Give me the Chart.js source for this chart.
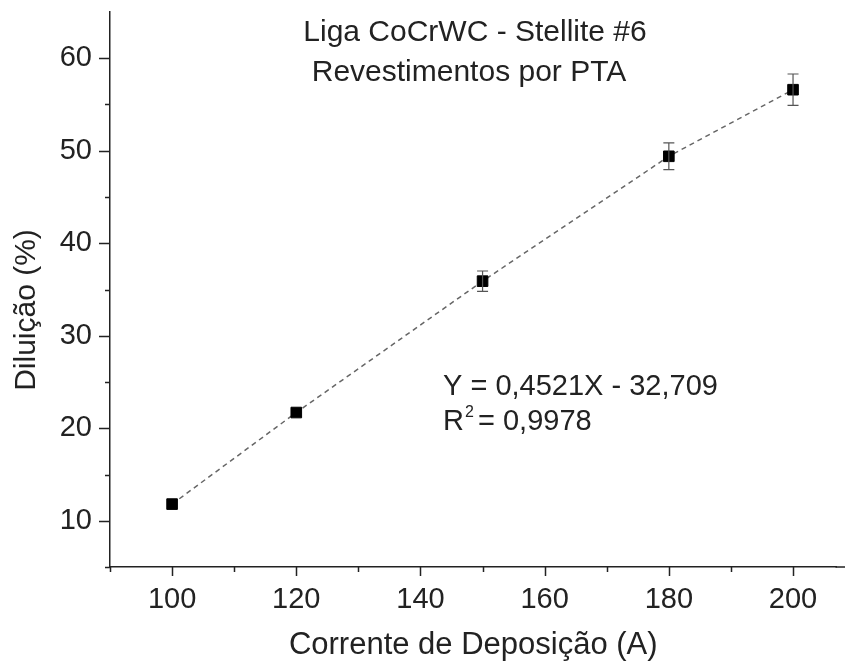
<!DOCTYPE html>
<html>
<head>
<meta charset="utf-8">
<script src="https://cdn.jsdelivr.net/npm/chart.js@4/dist/chart.umd.min.js"></script>
<style>
  html, body { margin: 0; padding: 0; background: #fff; overflow: hidden; }
  #wrap { width: 845px; height: 668px; }
</style>
</head>
<body>
<div id="wrap"><canvas id="chart_dil"></canvas></div>
<script>
// data
var corrente = [100, 120, 150, 180, 200];
var diluicao = [11.8, 21.7, 35.9, 49.4, 56.6];
var erro = [0, 0, 1.1, 1.45, 1.7];

var xTicks = [90, 100, 110, 120, 130, 140, 150, 160, 170, 180, 190, 200];
var yTicks = [5, 10, 15, 20, 25, 30, 35, 40, 45, 50, 55, 60];

var titulo = ['Liga CoCrWC - Stellite #6', 'Revestimentos por PTA'];
var equacao = 'Y = 0,4521X - 32,709';
var r2 = '0,9978';
var yLabel = 'Diluição (%)';

var FONT = '"Liberation Sans", Arial, sans-serif';

// error bars + ticks + text drawn on top
var extras = {
    id: 'extras',
    afterDatasetsDraw(chart) {
        let ctx = chart.ctx;
        let xs = chart.scales.x, ys = chart.scales.y;
        ctx.save();
        ctx.strokeStyle = '#555';
        ctx.lineWidth = 1.2;
        for (let i = 0; i < corrente.length; i++) {
            if (!erro[i]) continue;
            let px = xs.getPixelForValue(corrente[i]);
            let top = ys.getPixelForValue(diluicao[i] + erro[i]);
            let bot = ys.getPixelForValue(diluicao[i] - erro[i]);
            ctx.beginPath();
            ctx.moveTo(px, top); ctx.lineTo(px, bot);
            ctx.moveTo(px - 5.5, top); ctx.lineTo(px + 5.5, top);
            ctx.moveTo(px - 5.5, bot); ctx.lineTo(px + 5.5, bot);
            ctx.stroke();
        }
        ctx.restore();
    },
    afterDraw(chart) {
        let ctx = chart.ctx;
        let xs = chart.scales.x, ys = chart.scales.y;
        let area = chart.chartArea;
        ctx.save();
        ctx.strokeStyle = '#222';
        ctx.lineWidth = 1.5;
        ctx.beginPath();
        // bottom axis runs on to the edge of the picture
        ctx.moveTo(area.right - 1, area.bottom); ctx.lineTo(chart.width, area.bottom);
        xTicks.forEach(v => {
            let px = Math.round(xs.getPixelForValue(v)) + 0.5;
            let len = (v % 20 === 0) ? 9 : 5;
            ctx.moveTo(px, area.bottom); ctx.lineTo(px, area.bottom + len);
        });
        yTicks.forEach(v => {
            let py = Math.round(ys.getPixelForValue(v)) + 0.5;
            let len = (v % 10 === 0) ? 11 : 5;
            ctx.moveTo(area.left, py); ctx.lineTo(area.left - len, py);
        });
        ctx.stroke();

        ctx.fillStyle = '#222';
        ctx.font = '30px ' + FONT;
        ctx.textAlign = 'center';
        ctx.textBaseline = 'alphabetic';
        ctx.fillText(titulo[0], 475, 41);
        ctx.fillText(titulo[1], 469, 81);

        // y axis title, a bit below the middle as in the original
        ctx.save();
        ctx.translate(27, 310);
        ctx.rotate(-Math.PI / 2);
        ctx.textBaseline = 'middle';
        ctx.fillText(yLabel, 0, 0);
        ctx.restore();

        ctx.font = '29px ' + FONT;
        ctx.textAlign = 'left';
        ctx.fillText(equacao, 443, 395);
        ctx.fillText('R', 443, 430);
        let rw = ctx.measureText('R').width;
        ctx.font = '16px ' + FONT;
        ctx.fillText('2', 443 + rw + 1, 417);
        ctx.font = '29px ' + FONT;
        ctx.fillText(' = ' + r2, 443 + rw + 6, 430);
        ctx.restore();
    }
};

new Chart(document.getElementById('chart_dil').getContext('2d'), {
    type: 'scatter',
    data: {
        datasets: [
            {
                label: 'Diluição',
                data: corrente.map((c, i) => ({ x: c, y: diluicao[i] })),
                showLine: true,
                borderColor: '#666',
                borderWidth: 1.5,
                borderDash: [5, 4],
                pointStyle: 'rect',
                pointRadius: 7.5,
                pointBackgroundColor: '#000',
                pointBorderColor: '#000',
                pointBorderWidth: 1,
                fill: false,
            }
        ]
    },
    options: {
        responsive: true,
        maintainAspectRatio: false,
        animation: false,
        layout: { padding: { top: 12, right: 0, left: 0, bottom: 0 } },
        plugins: {
            legend: { display: false },
            tooltip: { enabled: false }
        },
        scales: {
            x: {
                type: 'linear',
                min: 90,
                max: 207,
                afterBuildTicks: (s) => { s.ticks = xTicks.map(v => ({ value: v })); },
                afterFit: (s) => { s.height = 101; s.paddingLeft = 0; s.paddingRight = 0; },
                grid: { display: false },
                border: { display: true, color: '#222', width: 1.5 },
                ticks: {
                    padding: 8,
                    color: '#222',
                    font: { family: FONT, size: 29 },
                    maxRotation: 0,
                    autoSkip: false,
                    callback: (v) => (v % 20 === 0 ? v : '')
                },
                title: {
                    display: true,
                    text: 'Corrente de Deposição (A)',
                    color: '#222',
                    font: { family: FONT, size: 31 },
                    padding: { top: 13 }
                }
            },
            y: {
                type: 'linear',
                min: 5,
                max: 65,
                afterBuildTicks: (s) => { s.ticks = yTicks.map(v => ({ value: v })); },
                afterFit: (s) => { s.width = 110; s.paddingTop = 0; s.paddingBottom = 0; },
                grid: { display: false },
                border: { display: true, color: '#222', width: 1.5 },
                ticks: {
                    padding: 10,
                    color: '#222',
                    font: { family: FONT, size: 29 },
                    autoSkip: false,
                    callback: (v) => (v % 10 === 0 ? v : '')
                },
                title: { display: false }
            }
        }
    },
    plugins: [extras]
});
</script>
</body>
</html>
